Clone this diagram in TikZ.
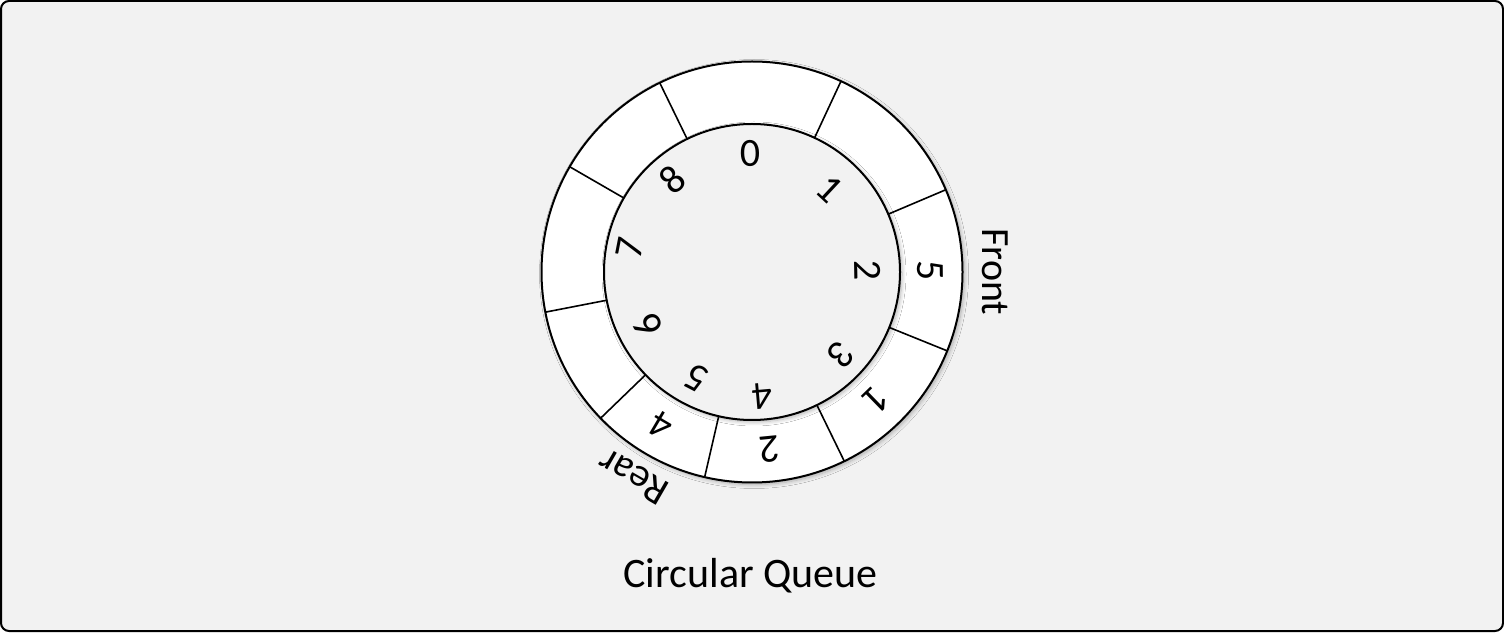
\documentclass[tikz,border=0pt]{standalone}
\usepackage{fontspec}
\setmainfont{Carlito}
\usetikzlibrary{shadows.blur}
\definecolor{panelgray}{HTML}{F2F2F2}
\definecolor{inkblack}{HTML}{000000}

\begin{document}
\begin{tikzpicture}[x=0.5pt, y=0.5pt, font=\fontsize{20}{24}\selectfont]
    \tikzstyle{disc} = [circle, inner sep=0pt, outer sep=0pt, draw=inkblack, line width=1pt, blur shadow={shadow xshift=1pt, shadow yshift=-1pt, shadow blur radius=2pt, shadow blur steps=8, shadow opacity=30}]
    \tikzstyle{digit} = [inner sep=0pt]
    \tikzstyle{tag} = [inner sep=0pt]
    \tikzstyle{divider} = [draw=inkblack, line width=0.8pt]

    \useasboundingbox (0,0) rectangle (1504,632);
    \draw [fill=panelgray, line width=1pt, rounded corners=4pt] (1,1) rectangle (1503,631);

    \coordinate (ctr) at (752,360);
    \node (ring) [disc, fill=white, minimum size=210.5pt] at (ctr) {};
    \node (hole) [disc, fill=panelgray, minimum size=148pt] at (ctr) {};

    % slot borders
    \foreach \a in {116, 65, 23.3, 338.2, 296, 257.5, 224.5, 191, 150.5}
      \draw [divider] (hole.\a) -- (ring.\a);

    % slot indices
    \foreach \a/\r/\t in {91/119/0, 47/114/1, 1/116/2, -42.8/122/3, -85/125/4, -117.5/120/5, -152.9/116.5/6, 169/124/7, 130.5/122/8}
      \node (idx\t) [digit, rotate=\a-90] at ([shift={(\a:\r)}]ctr) {\t};

    % stored values
    \foreach \a/\n/\t in {0.6/a/5, -45.8/b/1, -84.4/c/2, -120.5/d/4}
      \node (val\n) [digit, rotate=\a-90] at ([shift={(\a:178)}]ctr) {\t};

    \node (front) [tag, rotate=-90] at ([shift={(0:243)}]ctr) {Front};
    \node (rear) [tag, rotate=150] at ([shift={(-120.1:236.6)}]ctr) {Rear};

    \node (title) [anchor=base, font=\fontsize{21}{25}\selectfont] at (750.5,44.7) {Circular Queue};
\end{tikzpicture}
\end{document}
